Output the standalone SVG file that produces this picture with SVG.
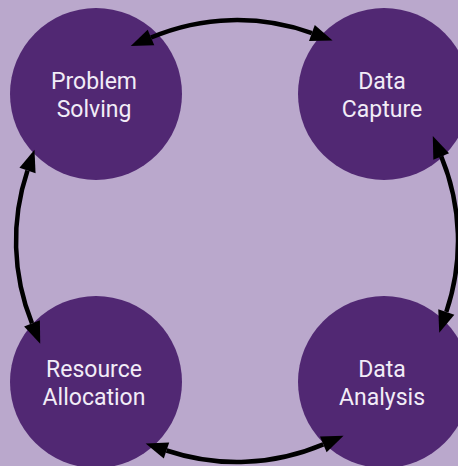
<svg xmlns="http://www.w3.org/2000/svg" width="458" height="466" viewBox="0 0 458 466">
<style>
.node{fill:#512873}
.lbl{font-family:Roboto,"Liberation Sans",sans-serif;font-size:23px;fill:#F2ECF7;text-anchor:middle}
.conn{fill:none;stroke:#000;stroke-width:4.5;marker-start:url(#ah);marker-end:url(#ah)}
</style>
<defs>
<marker id="ah" markerUnits="userSpaceOnUse" viewBox="0 -9 23 18" markerWidth="23" markerHeight="18" refX="0" refY="0" orient="auto-start-reverse" overflow="visible">
<path d="M0,-8.5 L22,0 L0,8.5 z" fill="#000"/>
</marker>
</defs>
<rect width="458" height="466" fill="#BAA8CC"/>
<g id="problem-solving">
<circle class="node" cx="96" cy="94" r="86"/>
<text class="lbl" x="94" y="89">Problem</text>
<text class="lbl" x="94" y="117">Solving</text>
</g>
<g id="data-capture">
<circle class="node" cx="384" cy="94" r="86"/>
<text class="lbl" x="382" y="89">Data</text>
<text class="lbl" x="382" y="117">Capture</text>
</g>
<g id="resource-allocation">
<circle class="node" cx="96" cy="382" r="86"/>
<text class="lbl" x="94" y="377">Resource</text>
<text class="lbl" x="94" y="405">Allocation</text>
</g>
<g id="data-analysis">
<circle class="node" cx="384" cy="382" r="86"/>
<text class="lbl" x="382" y="377">Data</text>
<text class="lbl" x="382" y="405">Analysis</text>
</g>
<g id="connectors">
<path class="conn" d="M151,37.5 A221,221 0 0 1 311.9,33.1"/>
<path class="conn" d="M441.2,156.4 A221,221 0 0 1 446.3,311.9"/>
<path class="conn" d="M323.3,444.4 A221,221 0 0 1 166.5,450.5"/>
<path class="conn" d="M32,323.4 A221,221 0 0 1 27.5,170.5"/>
</g>
</svg>
